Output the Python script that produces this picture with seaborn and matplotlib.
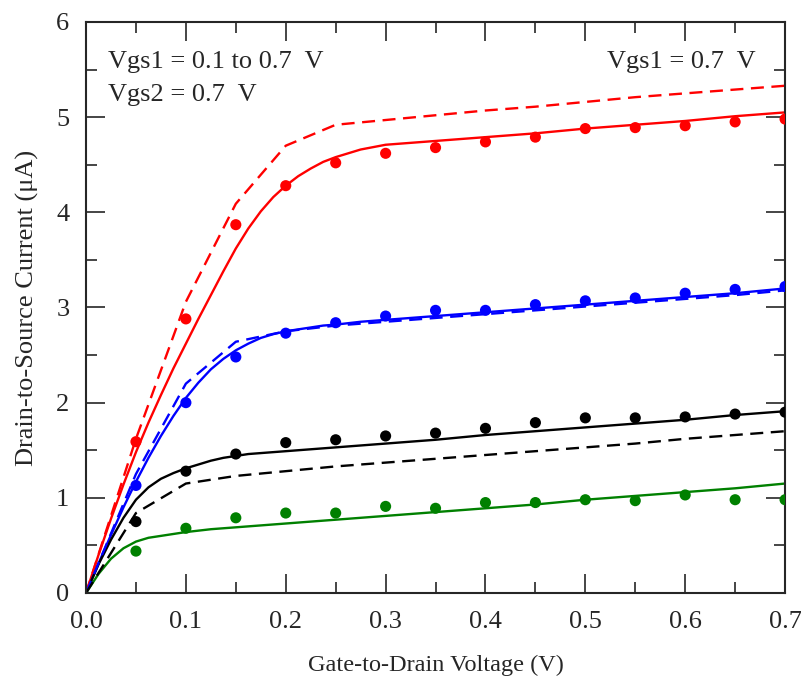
import numpy as np
import pandas as pd
import matplotlib
matplotlib.use("Agg")
import matplotlib.pyplot as plt
import seaborn as sns
from matplotlib.ticker import MultipleLocator

# ---- measured data points (symbols) ----
x_pts = [0.05, 0.10, 0.15, 0.20, 0.25, 0.30, 0.35, 0.40, 0.45, 0.50, 0.55, 0.60, 0.65, 0.70]
red_pts = [1.59, 2.88, 3.87, 4.28, 4.52, 4.62, 4.68, 4.74, 4.79, 4.88, 4.89, 4.91, 4.95, 4.98]
blue_pts = [1.13, 2.00, 2.48, 2.73, 2.84, 2.91, 2.97, 2.97, 3.03, 3.07, 3.10, 3.15, 3.19, 3.22]
black_pts = [0.75, 1.28, 1.46, 1.58, 1.61, 1.65, 1.68, 1.73, 1.79, 1.84, 1.84, 1.85, 1.88, 1.90]
green_pts = [0.44, 0.68, 0.79, 0.84, 0.84, 0.91, 0.89, 0.95, 0.95, 0.98, 0.97, 1.03, 0.98, 0.98]

# ---- model curves (solid) ----
x_solid = [0.0, 0.0125, 0.025, 0.0375, 0.05, 0.0625, 0.075, 0.0875, 0.10, 0.1125, 0.125, 0.1375,
           0.15, 0.1625, 0.175, 0.1875, 0.20, 0.2125, 0.225, 0.2375, 0.25, 0.275, 0.30,
           0.35, 0.40, 0.45, 0.50, 0.55, 0.60, 0.65, 0.70]
red_solid = [0.0, 0.40, 0.78, 1.14, 1.48, 1.79, 2.08, 2.36, 2.62, 2.88, 3.13, 3.38,
             3.62, 3.83, 4.01, 4.16, 4.28, 4.38, 4.46, 4.53, 4.58, 4.66, 4.71,
             4.75, 4.79, 4.83, 4.88, 4.92, 4.96, 5.01, 5.05]
blue_solid = [0.0, 0.31, 0.61, 0.90, 1.17, 1.42, 1.65, 1.86, 2.05, 2.21, 2.35, 2.46,
              2.55, 2.62, 2.68, 2.72, 2.75, 2.77, 2.79, 2.81, 2.82, 2.85, 2.87,
              2.91, 2.95, 2.99, 3.03, 3.07, 3.11, 3.15, 3.20]
black_solid = [0.0, 0.30, 0.56, 0.79, 0.98, 1.11, 1.20, 1.26, 1.31, 1.35, 1.39, 1.42,
               1.44, 1.46, 1.47, 1.48, 1.49, 1.50, 1.51, 1.52, 1.53, 1.55, 1.57,
               1.61, 1.66, 1.70, 1.74, 1.78, 1.82, 1.87, 1.91]
green_solid = [0.0, 0.20, 0.36, 0.47, 0.54, 0.58, 0.60, 0.62, 0.64, 0.655, 0.67, 0.68,
               0.69, 0.70, 0.71, 0.72, 0.73, 0.74, 0.75, 0.76, 0.77, 0.79, 0.81,
               0.85, 0.89, 0.93, 0.98, 1.02, 1.06, 1.10, 1.15]

# ---- model curves (dashed) ----
x_dash = [0.0, 0.05, 0.10, 0.15, 0.20, 0.25, 0.30, 0.35, 0.40, 0.45, 0.50, 0.55, 0.60, 0.65, 0.70]
red_dash = [0.0, 1.62, 3.06, 4.09, 4.70, 4.92, 4.97, 5.02, 5.07, 5.11, 5.16, 5.21, 5.25, 5.29, 5.33]
blue_dash = [0.0, 1.25, 2.20, 2.64, 2.75, 2.81, 2.85, 2.89, 2.93, 2.97, 3.01, 3.05, 3.09, 3.13, 3.18]
black_dash = [0.0, 0.84, 1.15, 1.23, 1.28, 1.33, 1.37, 1.41, 1.45, 1.49, 1.53, 1.57, 1.62, 1.66, 1.70]

x_ticks = [0.0, 0.1, 0.2, 0.3, 0.4, 0.5, 0.6, 0.7]
y_ticks = [0, 1, 2, 3, 4, 5, 6]

sns.set_style("ticks")
plt.rcParams['font.family'] = ['Liberation Serif', 'DejaVu Serif']

fig = plt.figure(figsize=(8.01, 6.83), dpi=100)
ax = fig.add_axes([0.1074, 0.1318, 0.8727, 0.836])

colors = {"red": "#ff0000", "blue": "#0000ff", "black": "#000000", "green": "#008000"}
LW = 1.7

for c, ys in [("red", red_solid), ("blue", blue_solid), ("black", black_solid), ("green", green_solid)]:
    sns.lineplot(x=x_solid, y=ys, ax=ax, color=colors[c], linewidth=LW, sort=False, estimator=None)

for c, ys in [("red", red_dash), ("blue", blue_dash), ("black", black_dash)]:
    sns.lineplot(x=x_dash, y=ys, ax=ax, color=colors[c], linewidth=LW, sort=False, estimator=None,
                 linestyle=(0, (5.5, 3.2)))

for c, ys in [("red", red_pts), ("blue", blue_pts), ("black", black_pts), ("green", green_pts)]:
    sns.scatterplot(x=x_pts, y=ys, ax=ax, color=colors[c], s=64, edgecolor='none', zorder=5)

ax.set_xlim(0, 0.7)
ax.set_ylim(0, 6)
ax.set_xticks(x_ticks)
ax.set_xticklabels([f"{v:.1f}" for v in x_ticks])
ax.set_yticks(y_ticks)
ax.set_yticklabels([str(v) for v in y_ticks])
ax.xaxis.set_minor_locator(MultipleLocator(0.05))
ax.yaxis.set_minor_locator(MultipleLocator(0.5))
ax.tick_params(which='both', direction='in', top=True, right=True, width=1.2, labelsize=19)
ax.tick_params(which='major', length=14)
ax.tick_params(which='minor', length=8)
ax.tick_params(axis='x', which='major', pad=13)
ax.tick_params(axis='y', which='major', pad=12)
for sp in ax.spines.values():
    sp.set_linewidth(1.5)
    sp.set_visible(True)

ax.set_xlabel("Gate-to-Drain Voltage (V)", fontsize=17.5, labelpad=16)
ax.set_ylabel("Drain-to-Source Current (μA)", fontsize=19, labelpad=12)

ax.text(0.022, 5.515, "Vgs1 = 0.1 to 0.7  V", fontsize=19, va='baseline', ha='left')
ax.text(0.022, 5.168, "Vgs2 = 0.7  V", fontsize=19, va='baseline', ha='left')
ax.text(0.522, 5.515, "Vgs1 = 0.7  V", fontsize=19, va='baseline', ha='left')

fig.savefig("out.png", dpi=100)
